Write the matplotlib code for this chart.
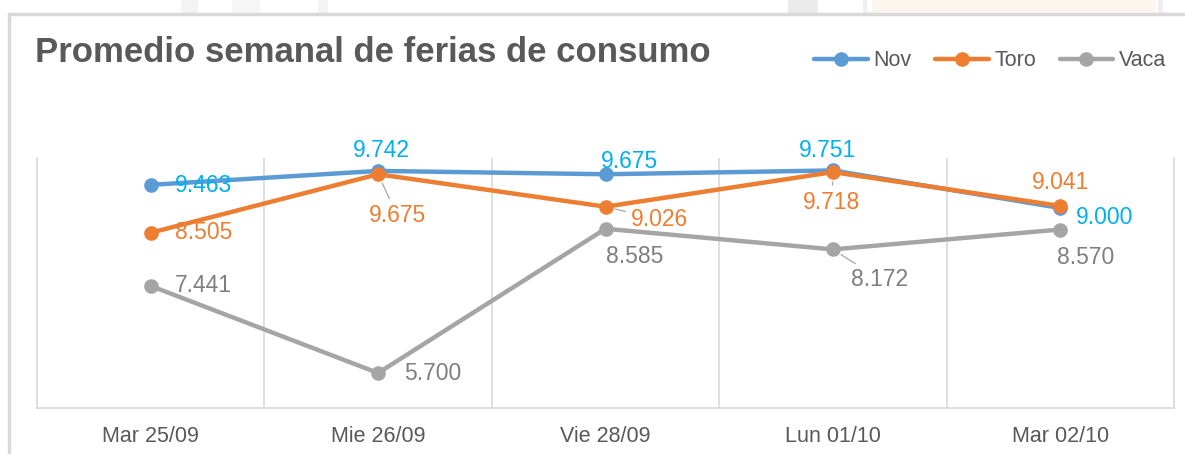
import matplotlib.pyplot as plt
from matplotlib.patches import Rectangle
from matplotlib.lines import Line2D

plt.rcParams['font.family'] = ['Liberation Sans', 'DejaVu Sans']

# data
categories = ['Mar 25/09', 'Mie 26/09', 'Vie 28/09', 'Lun 01/10', 'Mar 02/10']
nov = [9.463, 9.742, 9.675, 9.751, 9.000]
toro = [8.505, 9.675, 9.026, 9.718, 9.041]
vaca = [7.441, 5.700, 8.585, 8.172, 8.570]
series_names = ['Nov', 'Toro', 'Vaca']

line_colors = ['#5B9BD5', '#ED7D31', '#A5A5A5']
label_colors = ['#00B0F0', '#ED7D31', '#7F7F7F']

# label offsets in pixels (dx, dy) and whether a leader line is drawn
offsets = [
    [(53, -1), (3, 20), (24, 13), (-5, 20), (44, -10)],
    [(53, 0), (19, -41), (54, -13), (-1, -30), (0, 23)],
    [(53, 0), (55, 0), (29, -28), (47, -30), (25, -28)],
]
leaders = [
    [False] * 5,
    [False, True, True, True, False],
    [False, False, False, True, False],
]

fig = plt.figure(figsize=(11.85, 4.54), dpi=100)

# faint background strip above the chart frame
for x0, x1, c in [(181, 198, '#f3f3f3'), (232, 260, '#f6f6f6'), (318, 328, '#f3f3f3'),
                  (788, 818, '#ebebeb'), (863, 867, '#efefef'), (872, 1156, '#fdf6ee'),
                  (1158, 1163, '#eeeeee')]:
    fig.patches.append(Rectangle((x0 / 1185, 1 - 13 / 454), (x1 - x0) / 1185, 13 / 454,
                                 transform=fig.transFigure, color=c, lw=0, zorder=0))
# chart frame
fig.lines.append(Line2D([9 / 1185, 9 / 1185, 1.0], [0, 1 - 14 / 454, 1 - 14 / 454],
                        transform=fig.transFigure, color='#d9d9d9', lw=2.5))

ax = fig.add_axes([37 / 1185, 46 / 454, 1137 / 1185, 250 / 454])
x = range(len(categories))
for vals, name, lc in zip([nov, toro, vaca], series_names, line_colors):
    ax.plot(x, vals, color=lc, lw=3.2, marker='o', markersize=9.5, label=name,
            solid_capstyle='round', zorder=3)

for s, vals in enumerate([nov, toro, vaca]):
    for i, v in enumerate(vals):
        dx, dy = offsets[s][i]
        kw = {}
        if leaders[s][i]:
            kw['arrowprops'] = dict(arrowstyle='-', color='#a6a6a6', lw=0.9,
                                    shrinkA=2, shrinkB=7)
        ax.annotate(f'{v:.3f}', (i, v), xytext=(dx, dy), textcoords='offset pixels',
                    ha='center', va='center', fontsize=16.5, color=label_colors[s],
                    zorder=4, **kw)

ax.set_xlim(-0.5, len(categories) - 0.5)
ax.set_ylim(5, 10)
ax.set_yticks([])
ax.set_xticks(list(x))
ax.set_xticklabels(categories, fontsize=15.5, color='#595959')
ax.tick_params(axis='x', length=0, pad=13)
for b in [0.5, 1.5, 2.5, 3.5]:
    ax.axvline(b, color='#d9d9d9', lw=1.2, zorder=1)
ax.spines['top'].set_visible(False)
for sp in ['left', 'right', 'bottom']:
    ax.spines[sp].set_color('#d9d9d9')
    ax.spines[sp].set_linewidth(1.2)

fig.text(35 / 1185, 1 - 52 / 454, 'Promedio semanal de ferias de consumo',
         fontsize=25, fontweight='bold', color='#595959', ha='left', va='center')

fig.legend(loc='center right', bbox_to_anchor=(1166 / 1185, 1 - 61 / 454), ncol=3,
           frameon=False, fontsize=15.5, handlelength=2.5, handletextpad=0.25,
           columnspacing=1.1, labelcolor='#595959', borderpad=0, borderaxespad=0)

fig.savefig('out.png', dpi=100)
